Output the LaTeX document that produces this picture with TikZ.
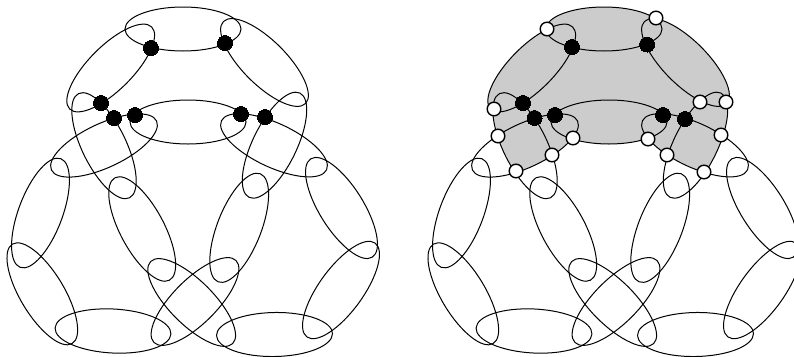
\documentclass[tikz,border=0pt]{standalone}
\usepackage{xcolor,tikz}
\definecolor{regiongray}{HTML}{CCCCCC}
\tikzset{ring/.style={draw=black,line width=1pt},
 bd/.style={circle,draw=black,fill=black,inner sep=0pt,minimum size=15pt,line width=0pt},
 wd/.style={circle,draw=black,fill=white,inner sep=0pt,minimum size=13.6pt,line width=1.4pt}}
\newcommand{\ringat}[3]{\draw[ring,shift={(#1,#2)},rotate=#3](0,0) ellipse [x radius=58,y radius=22];}
\newcommand{\ringarc}[5]{-- plot[domain=#4:#5,samples=24] ({#1+58*cos(\x)*cos(#3)+22*sin(\x)*sin(#3)},{#2-58*cos(\x)*sin(#3)+22*sin(\x)*cos(#3)})}
\newcommand{\allrings}{%
\ringat{183}{29}{0}\ringat{110.7}{68}{45}\ringat{264.5}{62.5}{-45}
\ringat{188}{122}{0}\ringat{104}{145.5}{25}\ringat{274}{145.3}{-25}
\ringat{104}{145.7}{-64}\ringat{274.5}{145.2}{64}
\ringat{40.5}{213}{69.5}\ringat{42.3}{293.8}{-59}\ringat{113}{331}{-3}
\ringat{142.2}{229}{-62}\ringat{191.7}{302.5}{-45}\ringat{195}{301.5}{45}
\ringat{239.2}{227.8}{68.7}\ringat{274.5}{334.5}{1}\ringat{341}{290}{54}
\ringat{341.5}{208}{-58}}
\begin{document}
\begin{tikzpicture}[x=1pt,y=-1pt]
\useasboundingbox (0,0) rectangle (794,356);
\coordinate (w1) at (547,29);\coordinate (w2) at (656,18);
\coordinate (w3) at (726,102);\coordinate (w4) at (721,135);
\coordinate (w5) at (704,172);\coordinate (w6) at (667,155);
\coordinate (w7) at (648,139);\coordinate (w8) at (573,138);
\coordinate (w9) at (552,155);\coordinate (w10) at (516,171);
\coordinate (w11) at (498,136);\coordinate (w12) at (494,109);
\fill[regiongray] (w1) \ringarc{604}{29}{0}{-180}{-29} \ringarc{685.5}{62.5}{-45}{-152}{-2}
 \ringarc{695.5}{145.2}{64}{23}{112} \ringarc{695}{145.3}{-25}{70}{140}
 \ringarc{609}{122}{0}{49}{130} \ringarc{525}{145.5}{25}{37}{110}
 \ringarc{525}{145.7}{-64}{70}{146} \ringarc{531.7}{68}{45}{174}{311} -- cycle;
\allrings
\begin{scope}[xshift=421pt]
\allrings
\end{scope}
\node[bd](l1) at (151,48){};\node[bd](l2) at (225,43){};
\node[bd](l3) at (101,103){};\node[bd](l4) at (114,118){};
\node[bd](l5) at (135,115){};\node[bd](l6) at (241,114){};
\node[bd](l7) at (265,117){};
\node[bd](r1) at (572,47){};\node[bd](r2) at (647,44.5){};
\node[bd](r3) at (523,103){};\node[bd](r4) at (534.5,118){};
\node[bd](r5) at (555,115){};\node[bd](r6) at (663,115){};
\node[bd](r7) at (685,119){};
\node[wd](d1) at (w1){};\node[wd](d2) at (w2){};
\node[wd](d3) at (w3){};\node[wd](d4) at (w4){};
\node[wd](d5) at (w5){};\node[wd](d6) at (w6){};
\node[wd](d7) at (w7){};\node[wd](d8) at (w8){};
\node[wd](d9) at (w9){};\node[wd](d10) at (w10){};
\node[wd](d11) at (w11){};\node[wd](d12) at (w12){};
\node[wd](d13) at (700,102){};
\end{tikzpicture}
\end{document}
